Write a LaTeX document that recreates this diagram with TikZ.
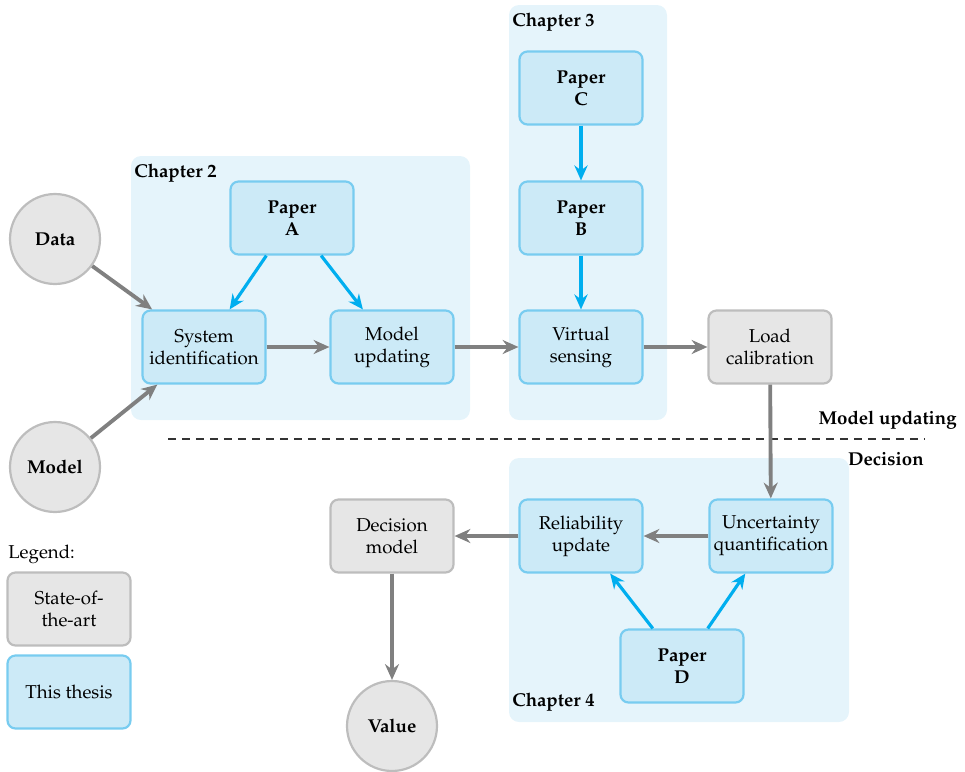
\documentclass[tikz,border=0pt]{standalone}
\usepackage[T1]{fontenc}
\usepackage{mathpazo}
\usetikzlibrary{arrows.meta}
\definecolor{chapbg}{HTML}{E5F4FB}
\definecolor{thesisfill}{HTML}{CCEAF7}
\definecolor{thesisdraw}{HTML}{78CCF0}
\definecolor{soafill}{HTML}{E6E6E6}
\definecolor{soadraw}{HTML}{BDBDBD}
\definecolor{arrgray}{HTML}{808080}
\definecolor{arrblue}{HTML}{00AEEF}
\tikzset{
 base/.style={rounded corners=0.16cm, minimum width=2.46cm, minimum height=1.46cm, align=center, line width=1.25pt, inner sep=1pt},
 thesis/.style={base, fill=thesisfill, draw=thesisdraw},
 soa/.style={base, fill=soafill, draw=soadraw},
 paper/.style={thesis, font=\fontsize{10.6}{12.6}\selectfont\bfseries},
 endpoint/.style={circle, fill=soafill, draw=soadraw, line width=1.25pt, minimum size=1.8cm, inner sep=0pt, font=\fontsize{10.6}{12.6}\selectfont\bfseries},
 chapter/.style={fill=chapbg, rounded corners=0.2cm},
 chaplabel/.style={font=\fontsize{10.6}{12.6}\selectfont\bfseries, inner sep=0pt, anchor=west},
 sidelabel/.style={font=\fontsize{10.6}{12.6}\selectfont\bfseries, inner sep=0pt, anchor=east},
 grayarrow/.style={draw=arrgray, line width=2.2pt, -{Stealth[length=9pt,width=8pt,inset=3pt]}},
 bluearrow/.style={draw=arrblue, line width=1.8pt, -{Stealth[length=8.5pt,width=7.5pt,inset=2.8pt]}},
}
\begin{document}
\begin{tikzpicture}[x=0.02cm,y=-0.02cm, font=\fontsize{10.6}{12.6}\selectfont]
\useasboundingbox (0,0) rectangle (965,772);
% chapter backgrounds
\fill[chapter] (131,156) rectangle (470,420);
\fill[chapter] (509,5) rectangle (667,420);
\fill[chapter] (509,458) rectangle (849,722);
\node[chaplabel] (ch2) at (134,173) {Chapter 2};
\node[chaplabel] (ch3) at (512,22) {Chapter 3};
\node[chaplabel] (ch4) at (512,702) {Chapter 4};
% divider
\draw[black!80, line width=0.6pt, dash pattern=on 0.16cm off 0.12cm] (168,439) -- (925,439);
\node[sidelabel] (mulabel) at (957,420) {Model updating};
\node[sidelabel] (declabel) at (924,459) {Decision};
% nodes
\node[endpoint] (data) at (55,239) {Data};
\node[endpoint] (model) at (55,467) {Model};
\node[paper] (pa) at (292,218) {Paper\\A};
\node[thesis] (sysid) at (204,347) {System\\identification};
\node[thesis] (mu) at (392,347) {Model\\updating};
\node[paper] (pc) at (581,88) {Paper\\C};
\node[paper] (pb) at (581,218) {Paper\\B};
\node[thesis] (vs) at (581,347) {Virtual\\sensing};
\node[soa] (lc) at (770,347) {Load\\calibration};
\node[thesis] (ru) at (581,536) {Reliability\\update};
\node[thesis] (uq) at (771,536) {Uncertainty\\quantification};
\node[paper] (pd) at (682,666) {Paper\\D};
\node[soa] (dm) at (392,536) {Decision\\model};
\node[endpoint] (value) at (392,726) {Value};
% legend
\node[anchor=west, inner sep=0pt] (legend) at (8,554) {Legend:};
\node[soa] (leg1) at (69,609) {State-of-\\the-art};
\node[thesis] (leg2) at (69,692) {This thesis};
% arrows
\draw[grayarrow] (data) -- (sysid);
\draw[grayarrow] (model) -- (sysid);
\draw[grayarrow] (sysid) -- (mu);
\draw[grayarrow] (mu) -- (vs);
\draw[grayarrow] (vs) -- (lc);
\draw[grayarrow] (lc) -- (uq);
\draw[grayarrow] (uq) -- (ru);
\draw[grayarrow] (ru) -- (dm);
\draw[grayarrow] (dm) -- (value);
\draw[bluearrow] (pa) -- (sysid);
\draw[bluearrow] (pa) -- (mu);
\draw[bluearrow] (pc) -- (pb);
\draw[bluearrow] (pb) -- (vs);
\draw[bluearrow] (pd) -- (ru);
\draw[bluearrow] (pd) -- (uq);
\end{tikzpicture}
\end{document}
